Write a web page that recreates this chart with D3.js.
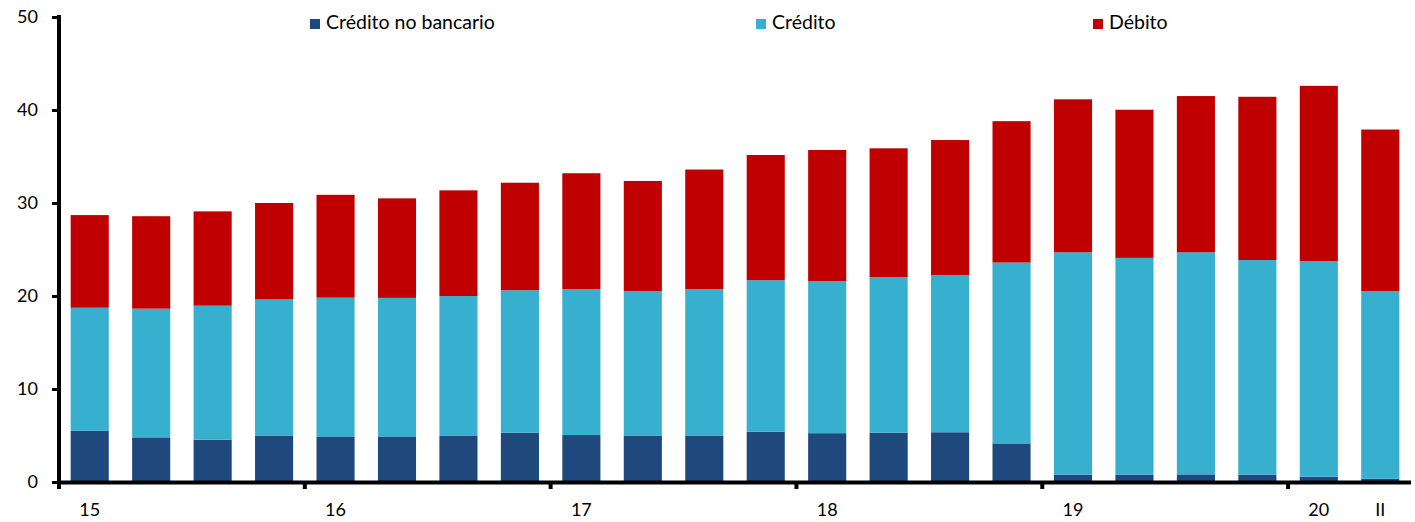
<!DOCTYPE html>
<html>
<head>
<meta charset="utf-8">
<script src="https://cdn.jsdelivr.net/npm/d3@7"></script>
<style>
  html, body { margin: 0; padding: 0; background: #ffffff; }
  svg { display: block; }
  text { font-family: Lato, "Open Sans", sans-serif; fill: #000; }
</style>
</head>
<body>
<svg id="chart" width="1415" height="522"></svg>
<script>
// ---- data ----
const categories = [
  "15-I","15-II","15-III","15-IV",
  "16-I","16-II","16-III","16-IV",
  "17-I","17-II","17-III","17-IV",
  "18-I","18-II","18-III","18-IV",
  "19-I","19-II","19-III","19-IV",
  "20-I","20-II"
];
const xTickLabels = [
  "15","","","",
  "16","","","",
  "17","","","",
  "18","","","",
  "19","","","",
  "20","II"
];
const seriesNames = ["Crédito no bancario", "Crédito", "Débito"];
// Crédito no bancario
const creditoNoBancario = [5.5, 4.8, 4.55, 5.0, 4.9, 4.9, 4.95, 5.3, 5.05, 5.0, 5.0, 5.4, 5.25, 5.3, 5.35, 4.15, 0.8, 0.8, 0.82, 0.8, 0.57, 0.36];
// Crédito (cumulative top)
const creditoTop = [18.74, 18.64, 18.96, 19.64, 19.82, 19.8, 20.0, 20.62, 20.75, 20.54, 20.73, 21.7, 21.58, 22.04, 22.26, 23.6, 24.7, 24.1, 24.7, 23.87, 23.76, 20.54];
// Totals (top of Débito)
const totals = [28.7, 28.58, 29.1, 30.0, 30.88, 30.5, 31.36, 32.18, 33.2, 32.37, 33.6, 35.16, 35.7, 35.88, 36.77, 38.8, 41.15, 40.03, 41.5, 41.42, 42.6, 37.9];
const credito = creditoTop.map((t, i) => +(t - creditoNoBancario[i]).toFixed(2));
const debito = totals.map((t, i) => +(t - creditoTop[i]).toFixed(2));
const yTicks = [0, 10, 20, 30, 40, 50];
const colors = ["#1F497D", "#37AFCE", "#C00000"];

// ---- layout ----
const svg = d3.select("#chart");
const mLeft = 59, mRight = 1411, mTop = 17, mBottom = 482;

const x = d3.scaleBand().domain(categories).range([mLeft, mRight])
  .paddingInner(0.38).paddingOuter(0.19);
const y = d3.scaleLinear().domain([0, 50]).range([mBottom, mTop]);

const table = categories.map((c, i) => ({
  cat: c,
  "Crédito no bancario": creditoNoBancario[i],
  "Crédito": credito[i],
  "Débito": debito[i]
}));
const stacked = d3.stack().keys(seriesNames)(table);

svg.append("g").selectAll("g.series").data(stacked).join("g")
  .attr("class", "series")
  .attr("fill", (d, i) => colors[i])
  .selectAll("rect").data(d => d).join("rect")
  .attr("x", d => x(d.data.cat))
  .attr("width", x.bandwidth())
  .attr("y", d => y(d[1]))
  .attr("height", d => y(d[0]) - y(d[1]));

// y axis
const yAxis = d3.axisLeft(y).tickValues(yTicks).tickSize(7).tickPadding(14);
const yg = svg.append("g").attr("transform", `translate(${mLeft},0)`).call(yAxis);
yg.select(".domain").remove();
yg.selectAll(".tick line").attr("stroke", "#000").attr("stroke-width", 3);
yg.selectAll(".tick text").style("font-size", "18px").attr("font-family", "Lato, 'Open Sans', sans-serif").attr("fill", "#000");
svg.append("line").attr("x1", mLeft).attr("x2", mLeft)
  .attr("y1", mTop - 2).attr("y2", mBottom + 7)
  .attr("stroke", "#000").attr("stroke-width", 4);

// x axis
svg.append("line").attr("x1", mLeft).attr("x2", mRight)
  .attr("y1", mBottom + 0.5).attr("y2", mBottom + 0.5)
  .attr("stroke", "#000").attr("stroke-width", 4);
const step = x.step();
const yearStarts = categories.map((c, i) => i).filter(i => i > 0 && i % 4 === 0);
svg.selectAll("line.yeartick").data(yearStarts).join("line")
  .attr("class", "yeartick")
  .attr("x1", i => x(categories[i]) - step * x.paddingInner() / 2)
  .attr("x2", i => x(categories[i]) - step * x.paddingInner() / 2)
  .attr("y1", mBottom).attr("y2", mBottom + 7)
  .attr("stroke", "#000").attr("stroke-width", 4);

svg.selectAll("text.xlab").data(categories).join("text")
  .attr("class", "xlab")
  .attr("x", c => x(c) + x.bandwidth() / 2)
  .attr("y", 516)
  .attr("text-anchor", "middle")
  .style("font-size", "18px")
  .text((c, i) => xTickLabels[i]);

// legend
const legendX = [310, 756, 1093];
const lg = svg.selectAll("g.leg").data(seriesNames).join("g")
  .attr("class", "leg")
  .attr("transform", (d, i) => `translate(${legendX[i]},19)`);
lg.append("rect").attr("width", 10).attr("height", 10).attr("fill", (d, i) => colors[i]);
lg.append("text").attr("x", 16).attr("y", 10).style("font-size", "19.5px").text(d => d);
</script>
</body>
</html>
